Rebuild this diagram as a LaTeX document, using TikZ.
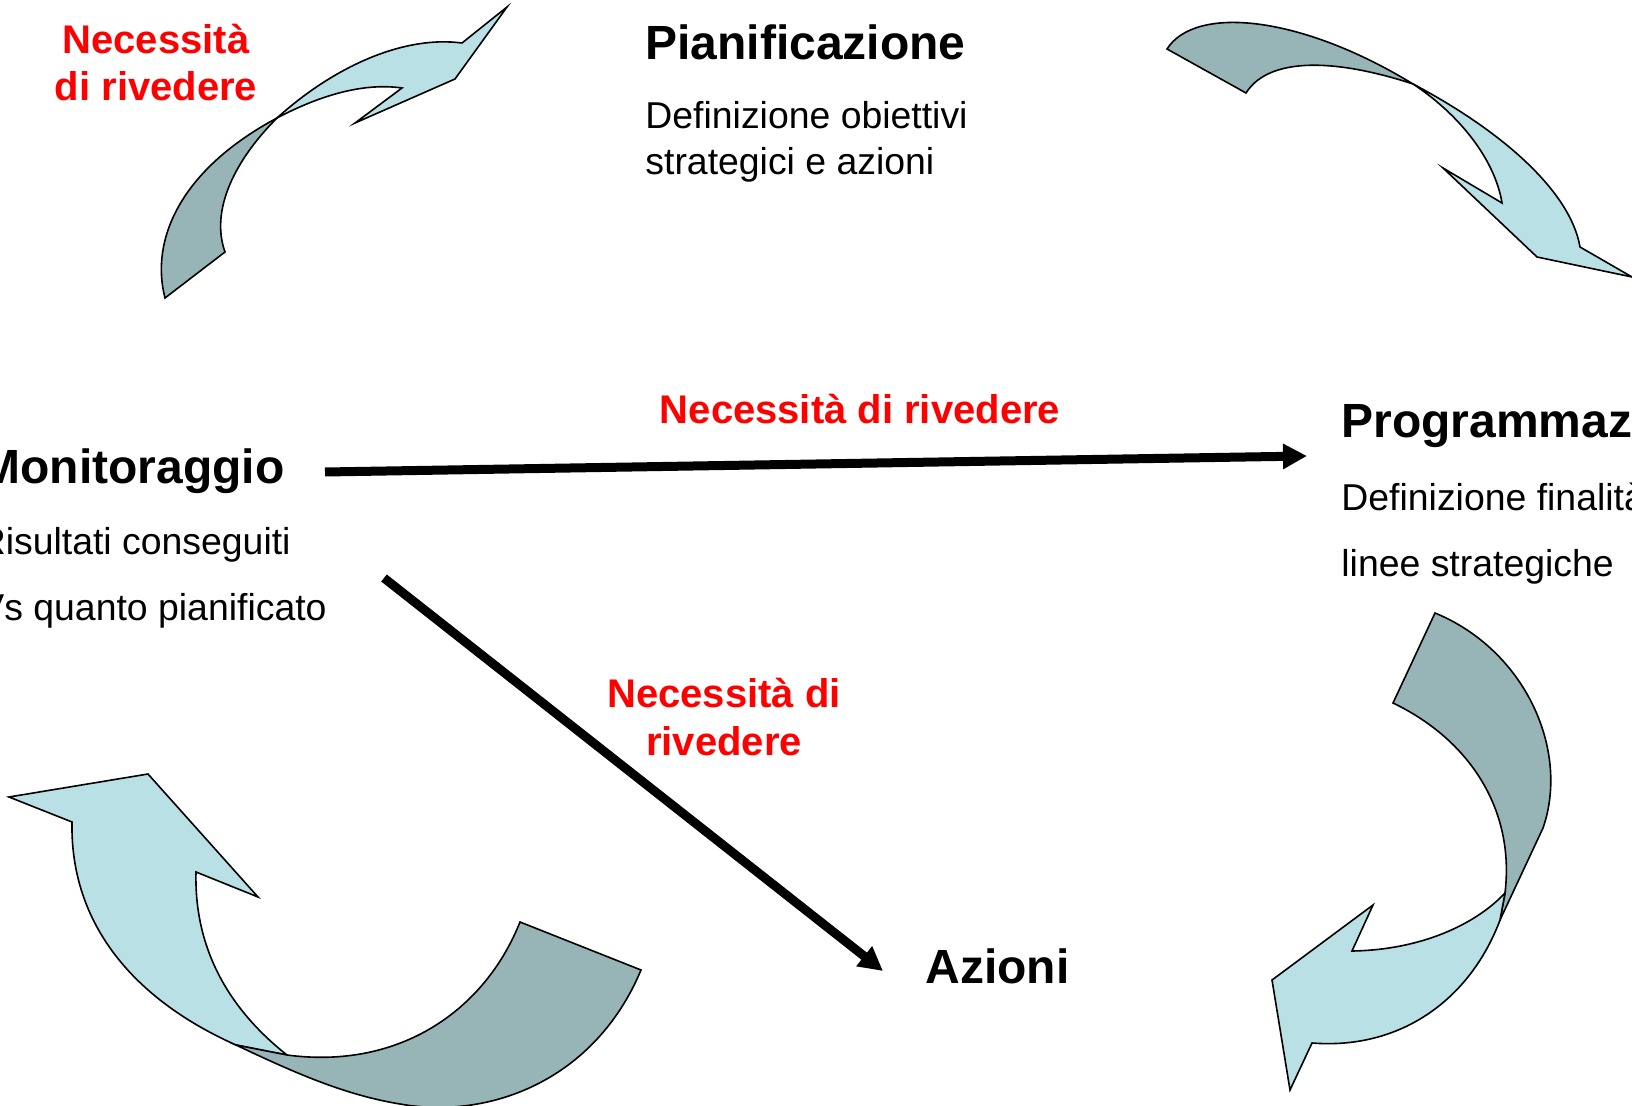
\documentclass[tikz,border=0pt]{standalone}
\usepackage{fontspec}
\setmainfont{Liberation Sans}
\usetikzlibrary{arrows.meta}
\definecolor{lightarr}{RGB}{185,224,228}
\definecolor{darkarr}{RGB}{151,181,183}
\definecolor{redtxt}{RGB}{255,0,0}
\tikzset{
  titletxt/.style={inner sep=0pt,font=\fontsize{24}{28}\selectfont\bfseries},
  bodytxt/.style={inner sep=0pt,font=\fontsize{18.7}{22}\selectfont},
  redlbl/.style={inner sep=0pt,text=redtxt,font=\fontsize{20}{24}\selectfont\bfseries},
  lightpart/.style={fill=lightarr,draw=black,line width=0.8pt,line join=miter},
  darkpart/.style={fill=darkarr,draw=black,line width=0.8pt,line join=miter},
  bigarrow/.style={line width=4.5pt,-{Triangle[length=12pt,width=12pt]}},
}
\begin{document}
\begin{tikzpicture}[x=0.5pt,y=-0.5pt]
\useasboundingbox (0,0) rectangle (1632,1106);

% ---------- curved arrow top-left ----------
\filldraw[darkpart] (165,298) .. controls (150,240) and (180,170) .. (277,118)
  .. controls (235,160) and (210,210) .. (225,252) -- cycle;
\filldraw[lightpart] (277,118) .. controls (330,70) and (400,35) .. (462,43)
  -- (507,7) -- (455,79) -- (355,123) -- (402,88)
  .. controls (360,82) and (315,98) .. (277,118) -- cycle;

% ---------- curved arrow top-right ----------
\filldraw[darkpart] (1167,49) .. controls (1195,5) and (1300,15) .. (1413,84)
  .. controls (1340,60) and (1270,55) .. (1246,93) -- cycle;
\filldraw[lightpart] (1413,84) .. controls (1500,130) and (1570,190) .. (1580,247)
  -- (1632,277) -- (1537,257) -- (1443,168) -- (1502,203)
  .. controls (1495,160) and (1460,115) .. (1413,84) -- cycle;

% ---------- curved arrow bottom-left ----------
\filldraw[lightpart] (9,797) -- (148,774) -- (258,897) -- (196,872)
  .. controls (194,950) and (230,1010) .. (287,1055)
  -- (236,1045)
  .. controls (135,1000) and (70,925) .. (72,822) -- cycle;
\filldraw[darkpart] (287,1055) .. controls (400,1070) and (485,1010) .. (520,922)
  -- (641,970)
  .. controls (595,1080) and (490,1120) .. (400,1104)
  .. controls (345,1095) and (295,1073) .. (236,1045) -- cycle;

% ---------- curved arrow bottom-right ----------
\filldraw[darkpart] (1435,613) .. controls (1525,650) and (1570,750) .. (1543,828)
  -- (1500,920) -- (1505,893)
  .. controls (1515,810) and (1470,740) .. (1393,703) -- cycle;
\filldraw[lightpart] (1500,920) .. controls (1470,1000) and (1400,1050) .. (1312,1043)
  -- (1290,1090) -- (1272,980) -- (1373,905) -- (1352,951)
  .. controls (1420,950) and (1475,925) .. (1505,893) -- cycle;

% ---------- texts ----------
\node[redlbl,anchor=base] (r1a) at (156,54) {Necessità};
\node[redlbl,anchor=base] (r1b) at (156,101) {di rivedere};

\node[titletxt,anchor=base west] (pian) at (645,60) {Pianificazione};
\node[bodytxt,anchor=base west] (pian1) at (645,129) {Definizione obiettivi};
\node[bodytxt,anchor=base west] (pian2) at (645,175) {strategici e azioni};

\node[redlbl,anchor=base] (r2) at (860,424) {Necessità di rivedere};

\node[titletxt,anchor=base west] (prog) at (1341,438) {Programmazione};
\node[bodytxt,anchor=base west] (prog1) at (1341,510) {Definizione finalità};
\node[bodytxt,anchor=base west] (prog2) at (1341,576) {linee strategiche};

\node[titletxt,anchor=base east] (mon) at (285,484) {Monitoraggio};
\node[bodytxt,anchor=base east] (mon1) at (291,554) {Risultati conseguiti};
\node[bodytxt,anchor=base east] (mon2) at (327,620) {Vs quanto pianificato};

\node[redlbl,anchor=base] (r3a) at (724,707) {Necessità di};
\node[redlbl,anchor=base] (r3b) at (724,755) {rivedere};

\node[titletxt,anchor=base west] (az) at (925,983) {Azioni};

% ---------- straight arrows ----------
\coordinate (hs) at (325,472);
\coordinate (he) at (1307,456);
\coordinate (ds) at (384,578);
\coordinate (de) at (883,971);
\draw[bigarrow] (hs) -- (he);
\draw[bigarrow] (ds) -- (de);
\end{tikzpicture}
\end{document}
